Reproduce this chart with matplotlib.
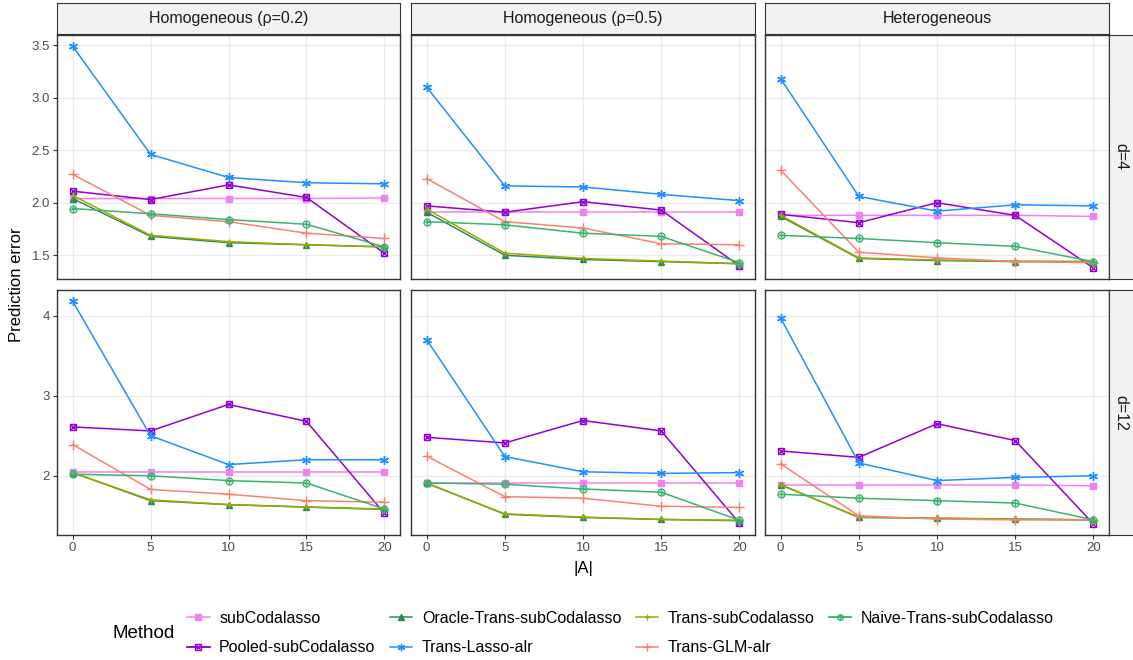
import matplotlib.pyplot as plt
from matplotlib.lines import Line2D
from matplotlib.legend_handler import HandlerTuple

plt.rcParams['font.family'] = ['Liberation Sans', 'DejaVu Sans']

# Datos
x_vals = [0, 5, 10, 15, 20]
col_labels = ["Homogeneous (\u03c1=0.2)", "Homogeneous (\u03c1=0.5)", "Heterogeneous"]
row_labels = ["d=4", "d=12"]
methods = ["subCodalasso", "Pooled-subCodalasso", "Oracle-Trans-subCodalasso", "Trans-Lasso-alr",
           "Trans-subCodalasso", "Trans-GLM-alr", "Naive-Trans-subCodalasso"]

# orden de paneles: (rho0.2,d4), (rho0.5,d4), (het,d4), (rho0.2,d12), (rho0.5,d12), (het,d12)
subcodalasso = [
    [2.04, 2.04, 2.04, 2.04, 2.045],
    [1.91, 1.91, 1.91, 1.91, 1.91],
    [1.88, 1.88, 1.88, 1.88, 1.87],
    [2.05, 2.05, 2.05, 2.05, 2.05],
    [1.91, 1.91, 1.91, 1.91, 1.91],
    [1.885, 1.885, 1.885, 1.885, 1.875],
]
pooled = [
    [2.11, 2.03, 2.17, 2.05, 1.52],
    [1.97, 1.91, 2.01, 1.93, 1.40],
    [1.89, 1.81, 2.00, 1.88, 1.38],
    [2.61, 2.56, 2.89, 2.68, 1.53],
    [2.48, 2.41, 2.69, 2.56, 1.41],
    [2.31, 2.23, 2.65, 2.44, 1.40],
]
oracle = [
    [2.04, 1.68, 1.62, 1.60, 1.58],
    [1.91, 1.50, 1.46, 1.44, 1.42],
    [1.87, 1.47, 1.45, 1.44, 1.44],
    [2.04, 1.69, 1.64, 1.61, 1.58],
    [1.91, 1.52, 1.48, 1.455, 1.44],
    [1.89, 1.48, 1.47, 1.46, 1.45],
]
trans_lasso = [
    [3.49, 2.46, 2.24, 2.19, 2.18],
    [3.10, 2.16, 2.15, 2.08, 2.02],
    [3.18, 2.06, 1.92, 1.98, 1.97],
    [4.18, 2.50, 2.14, 2.20, 2.20],
    [3.70, 2.24, 2.05, 2.03, 2.04],
    [3.97, 2.16, 1.94, 1.98, 2.00],
]
trans_sub = [
    [2.07, 1.69, 1.63, 1.60, 1.58],
    [1.94, 1.52, 1.47, 1.445, 1.42],
    [1.88, 1.475, 1.455, 1.445, 1.44],
    [2.04, 1.70, 1.64, 1.61, 1.585],
    [1.905, 1.525, 1.485, 1.455, 1.445],
    [1.885, 1.485, 1.47, 1.46, 1.45],
]
trans_glm = [
    [2.27, 1.88, 1.82, 1.71, 1.66],
    [2.23, 1.82, 1.76, 1.61, 1.60],
    [2.31, 1.53, 1.475, 1.44, 1.43],
    [2.39, 1.83, 1.77, 1.69, 1.67],
    [2.245, 1.74, 1.72, 1.62, 1.605],
    [2.15, 1.50, 1.46, 1.45, 1.45],
]
naive = [
    [1.945, 1.895, 1.84, 1.795, 1.58],
    [1.82, 1.79, 1.71, 1.68, 1.43],
    [1.69, 1.66, 1.62, 1.585, 1.44],
    [2.02, 2.00, 1.94, 1.91, 1.585],
    [1.91, 1.895, 1.835, 1.795, 1.445],
    [1.77, 1.72, 1.69, 1.66, 1.45],
]
series = [subcodalasso, pooled, oracle, trans_lasso, trans_sub, trans_glm, naive]

colores = ["#EE82EE", "#9400D3", "#2E8B57", "#1E90FF", "#9AAA00", "#FA8072", "#3CB371"]
# lista de (marker, size, filled) superpuestos por metodo
marcadores = [
    [("s", 5, True)],
    [("s", 5, False), ("x", 4, True)],
    [("^", 5, True)],
    [((6, 2, 0), 6.5, True)],
    [("+", 5, True)],
    [("+", 7.5, True)],
    [("o", 5, False), ("+", 5, True)],
]

W, H = 1133, 660
def rect(x0, y0, x1, y1):
    return [x0 / W, 1 - y1 / H, (x1 - x0) / W, (y1 - y0) / H]

cols = [(57, 400), (411, 755), (765, 1109)]
rows = [(35, 279), (290, 535)]

fig = plt.figure(figsize=(W / 100, H / 100), dpi=100)

# limites y por fila (expansion 5%)
ylims = []
for r in range(2):
    vals = [v for s in series for p in s[r * 3:(r + 1) * 3] for v in p]
    lo, hi = min(vals), max(vals)
    pad = (hi - lo) * 0.05
    ylims.append((lo - pad, hi + pad))
yticks = [[1.5, 2.0, 2.5, 3.0, 3.5], [2, 3, 4]]
yfmt = ["{:.1f}", "{:.0f}"]

for r, (y0, y1) in enumerate(rows):
    for c, (x0, x1) in enumerate(cols):
        ax = fig.add_axes(rect(x0, y0, x1, y1))
        p = r * 3 + c
        for k, s in enumerate(series):
            ax.plot(x_vals, s[p], color=colores[k], lw=1.1, zorder=2 + k)
            for (m, ms, filled) in marcadores[k]:
                ax.plot(x_vals, s[p], ls="none", marker=m, ms=ms, color=colores[k],
                        mfc=colores[k] if filled else "none", mew=1.0, zorder=2.5 + k)
        ax.set_xlim(-1, 21)
        ax.set_ylim(*ylims[r])
        ax.set_xticks(x_vals)
        ax.set_yticks(yticks[r])
        ax.grid(True, color="#EBEBEB", lw=1.0, zorder=0)
        ax.set_axisbelow(True)
        for sp in ax.spines.values():
            sp.set_color("#333333")
            sp.set_linewidth(1.0)
        ax.tick_params(length=3, width=0.8, color="#333333", labelsize=9.5,
                       labelcolor="#4D4D4D", pad=2)
        if r == 1:
            ax.set_xticklabels([str(v) for v in x_vals])
        else:
            ax.set_xticklabels([])
            ax.tick_params(axis="x", length=0)
        if c == 0:
            ax.set_yticklabels([yfmt[r].format(v) for v in yticks[r]])
        else:
            ax.set_yticklabels([])
            ax.tick_params(axis="y", length=0)

# tiras superiores
for c, (x0, x1) in enumerate(cols):
    sa = fig.add_axes(rect(x0, 3, x1, 34))
    sa.set_facecolor("#F2F2F2")
    sa.set_xticks([]); sa.set_yticks([])
    for sp in sa.spines.values():
        sp.set_color("#333333")
    sa.text(0.5, 0.5, col_labels[c], ha="center", va="center", fontsize=11.5, color="#1A1A1A")

# tiras derecha
for r, (y0, y1) in enumerate(rows):
    sa = fig.add_axes(rect(1109, y0, 1140, y1))
    sa.set_facecolor("#F2F2F2")
    sa.set_xticks([]); sa.set_yticks([])
    for sp in sa.spines.values():
        sp.set_color("#333333")
    sa.text(0.39, 0.5, row_labels[r], ha="center", va="center", rotation=-90,
            fontsize=11.5, color="#1A1A1A")

fig.text(17 / W, 1 - 285 / H, "Prediction error", rotation=90, ha="center", va="center", fontsize=12)
fig.text(583 / W, 1 - 568 / H, "|A|", ha="center", va="center", fontsize=12)

# leyenda
handles = []
for k in range(len(methods)):
    parts = []
    for (m, ms, filled) in marcadores[k]:
        parts.append(Line2D([], [], color=colores[k], lw=1.1, marker=m, ms=ms * 0.8,
                            mfc=colores[k] if filled else "none", mew=1.0))
    handles.append(tuple(parts))
fig.text(112 / W, 1 - 633 / H, "Method", ha="left", va="center", fontsize=13.5)
fig.legend(handles, methods, ncol=4, loc="center left", bbox_to_anchor=(176 / W, 1 - 633 / H),
           frameon=False, fontsize=11.5, handlelength=1.4, handletextpad=0.6,
           columnspacing=0.9, labelspacing=0.9, borderpad=0.2,
           handler_map={tuple: HandlerTuple(ndivide=1, pad=0)})

fig.savefig("out.png", dpi=100)
